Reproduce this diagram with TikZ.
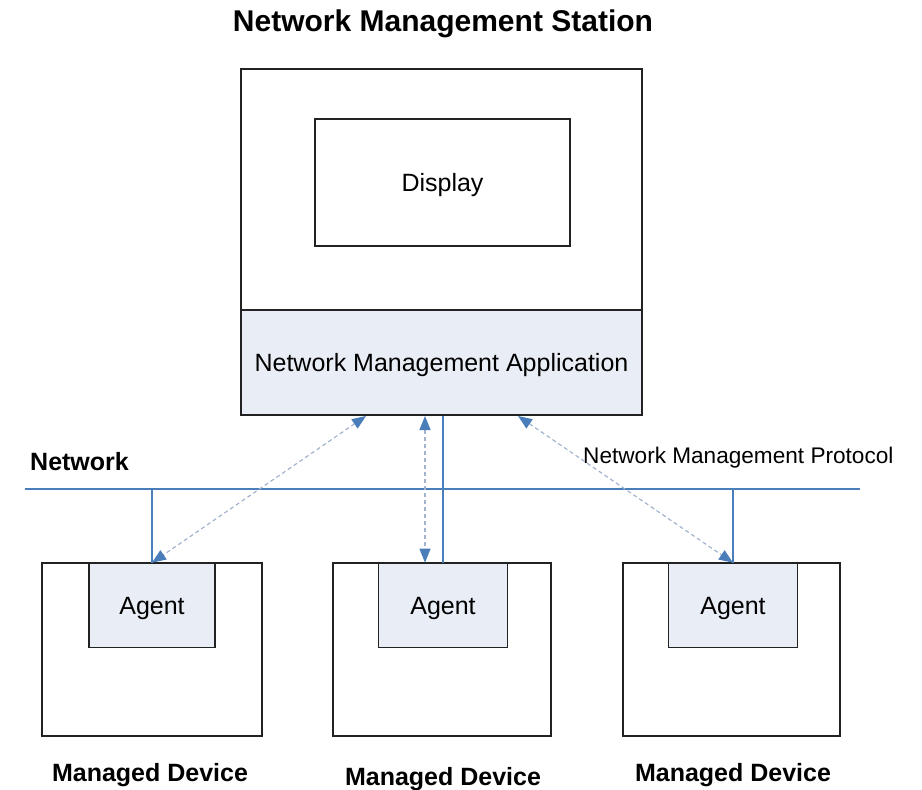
\documentclass[tikz,border=0pt]{standalone}
\usepackage{fontspec}
\setmainfont{Liberation Sans}
\usetikzlibrary{arrows.meta}
\definecolor{netblue}{HTML}{4A7EBB}
\definecolor{boxfill}{HTML}{E9EDF5}
\definecolor{dashcol}{HTML}{A3B3CE}
\definecolor{edge}{HTML}{222222}
\tikzset{
  box/.style={draw=edge, line width=1.6pt, inner sep=0pt},
  filledbox/.style={box, fill=boxfill},
  txt/.style={font=\fontsize{25}{30}\selectfont, text=black},
  intxt/.style={txt, text height=18pt, text depth=0pt},
  boldtxt/.style={font=\fontsize{25}{30}\selectfont\bfseries, text=black},
  netline/.style={draw=netblue, line width=2.8pt},
  proto/.style={draw=dashcol, line width=1.2pt, dash pattern=on 4pt off 3pt,
    {Triangle[length=14pt,width=11pt,color=netblue]}-{Triangle[length=14pt,width=11pt,color=netblue]}}
}
\begin{document}
\begin{tikzpicture}[x=1pt,y=-1pt]
\useasboundingbox (0,0) rectangle (922,790);

% management station
\node[boldtxt, font=\fontsize{30}{36}\selectfont\bfseries] (title) at (443,24) {Network Management Station};
\node[box, minimum width=401pt, minimum height=241pt] (station) at (441.5,189.5) {};
\node[filledbox, minimum width=401pt, minimum height=105pt, intxt] (app) at (441.5,362.5) {Network Management Application};
\node[box, minimum width=255pt, minimum height=127pt, intxt] (display) at (442.5,182.5) {Display};

% managed devices
\node[box, minimum width=220pt, minimum height=173pt] (dev1) at (152,649.5) {};
\node[box, minimum width=218pt, minimum height=173pt] (dev2) at (442,649.5) {};
\node[box, minimum width=217pt, minimum height=173pt] (dev3) at (731.5,649.5) {};
\node[filledbox, minimum width=126pt, minimum height=84pt, intxt] (agent1) at (152,605.5) {Agent};
\node[filledbox, minimum width=129pt, minimum height=84pt, intxt] (agent2) at (443,605.5) {Agent};
\node[filledbox, minimum width=129pt, minimum height=84pt, intxt] (agent3) at (733,605.5) {Agent};
\node[boldtxt] (md1) at (150,775) {Managed Device};
\node[boldtxt] (md2) at (443,779) {Managed Device};
\node[boldtxt] (md3) at (733,775) {Managed Device};

% network bus
\coordinate (netl) at (25,489);
\coordinate (netr) at (860,489);
\node[boldtxt, anchor=west, inner sep=0pt] (netlabel) at (30,462) {Network};
\node[txt, font=\fontsize{22.6}{27}\selectfont, anchor=west, inner sep=0pt] (protolabel) at (583,458) {Network Management Protocol};
\draw[netline] (netl) -- (netr);
\draw[netline] (agent1.north |- netl) -- (agent1.north);
\draw[netline] (agent2.north |- app.south) -- (agent2.north);
\draw[netline] (agent3.north |- netl) -- (agent3.north);

% protocol exchanges
\coordinate (p1) at (366,416);
\coordinate (p2) at (425,416);
\coordinate (p3) at (518,416);
\draw[proto] (p1) -- (agent1.north);
\draw[proto] (p2) -- (agent2.north -| p2);
\draw[proto] (p3) -- (agent3.north);
\end{tikzpicture}
\end{document}
